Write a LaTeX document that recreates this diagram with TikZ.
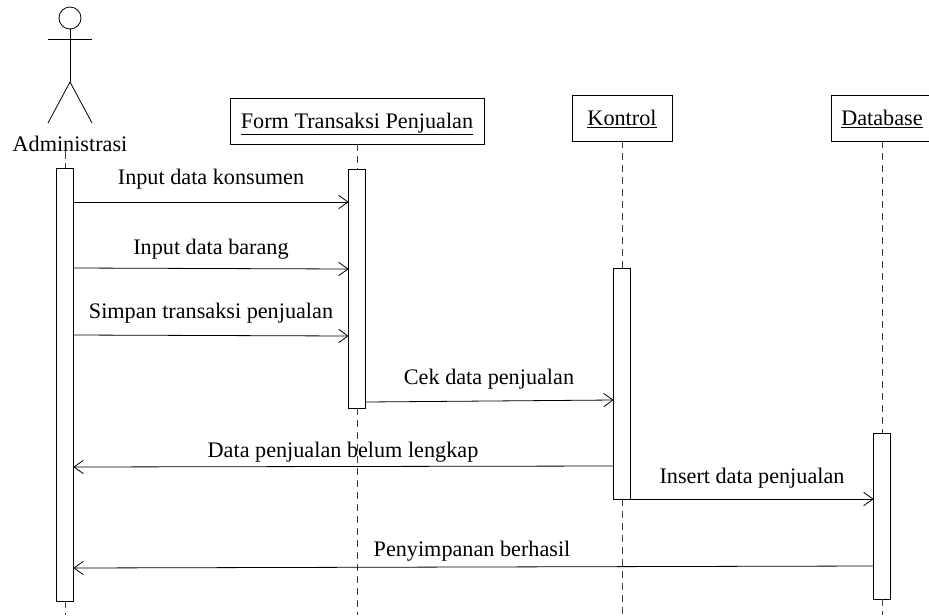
\documentclass[tikz,border=0pt]{standalone}
\usepackage{fontspec}
\setmainfont{Liberation Serif}
\usetikzlibrary{arrows.meta,positioning}

\begin{document}
\begin{tikzpicture}[
    x=0.75pt,
    y=-0.75pt,
    line width=0.6pt,
    font=\fontsize{16.65pt}{18pt}\selectfont,
    text centered,
    every node/.style={outer sep=0, inner sep=0}
  ]

  \tikzstyle{head} = [rectangle, draw, minimum height=34.5pt, text height=13pt, text depth=2.5pt]
  \tikzstyle{bar} = [rectangle, draw, fill=white, minimum width=12.5pt]
  \tikzstyle{life} = [draw, dash pattern=on 5.5pt off 3.5pt, black!75]
  \tikzstyle{msg} = [draw, -{Straight Barb[length=7pt,width=10pt]}]
  \tikzstyle{lbl} = [anchor=base]

  \useasboundingbox (0,0) rectangle (929,615);

  % actor
  \node [circle, draw, minimum size=16.5pt] (face) at (70,18) {};
  \coordinate (hip) at (70,82);
  \coordinate (handl) at (48,39);
  \coordinate (handr) at (92,39);
  \coordinate (footl) at (48,123);
  \coordinate (footr) at (92,123);
  \draw (face.south) -- (hip);
  \draw (handl) -- (handr);
  \draw (footl) -- (hip) -- (footr);
  \node [lbl] (admin) at (70,151) {Administrasi};

  % heads
  \node [head, minimum width=190.5pt] (form) at (357,121) {\underline{Form Transaksi Penjualan}};
  \node [head, minimum width=75pt, right=66pt of form, yshift=2.25pt] (kontrol) {\underline{Kontrol}};
  \node [head, minimum width=76.5pt, right=119.25pt of kontrol] (database) {\underline{Database}};

  % bars
  \node [bar, anchor=north, minimum height=324.75pt] (barA) at (65,168) {};
  \node [bar, minimum height=179.25pt, below=18.75pt of form] (barF) {};
  \node [bar, minimum height=173.25pt, below=95.25pt of kontrol] (barK) {};
  \node [bar, minimum height=124.5pt, below=219pt of database] (barD) {};

  % lifelines
  \coordinate (endA) at (barA.center |- 0,615);
  \coordinate (endF) at (barF.center |- 0,615);
  \coordinate (endK) at (barK.center |- 0,615);
  \coordinate (endD) at (barD.center |- 0,615);
  \path [life] (admin.south -| barA.center) -- (barA.north);
  \path [life] (barA.south) -- (endA);
  \path [life] (form.south) -- (barF.north);
  \path [life] (barF.south) -- (endF);
  \path [life] (kontrol.south) -- (barK.north);
  \path [life] (barK.south) -- (endK);
  \path [life] (database.south) -- (barD.north);
  \path [life] (barD.south) -- (endD);

  % messages
  \path [msg] (barA.east |- 0,202) -- (barF.west |- 0,202);
  \path [msg] (barA.east |- 0,268) -- (barF.west |- 0,269);
  \path [msg] (barA.east |- 0,335) -- (barF.west |- 0,336);
  \path [msg] (barF.east |- 0,402) -- (barK.west |- 0,400);
  \path [msg] (barK.west |- 0,466) -- (barA.east |- 0,467);
  \path [msg] (barK.south east) -- (barD.west |- barK.south);
  \path [msg] (barD.west |- 0,566) -- (barA.east |- 0,568);

  % labels
  \node [lbl] (m1) at (211,184) {Input data konsumen};
  \node [lbl] (m2) at (211,254) {Input data barang};
  \node [lbl] (m3) at (211,318) {Simpan transaksi penjualan};
  \node [lbl] (m4) at (489,384) {Cek data penjualan};
  \node [lbl] (m5) at (343,457) {Data penjualan belum lengkap};
  \node [lbl] (m6) at (752,483) {Insert data penjualan};
  \node [lbl] (m7) at (472,556) {Penyimpanan berhasil};

\end{tikzpicture}
\end{document}
